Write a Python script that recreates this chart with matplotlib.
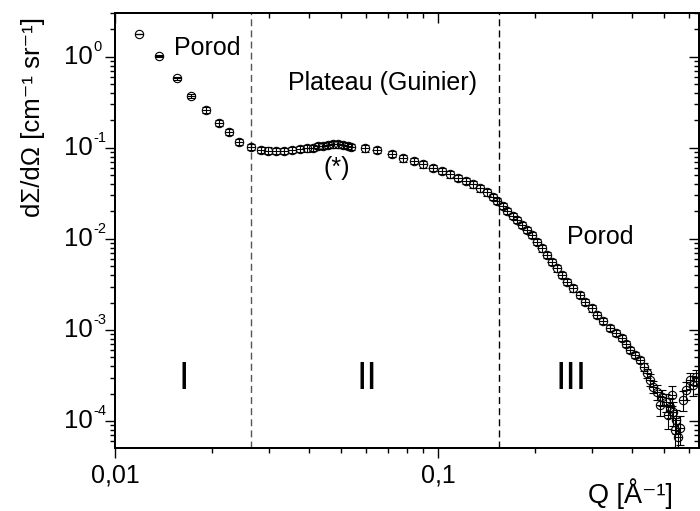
import numpy as np
import matplotlib
matplotlib.use("Agg")
import matplotlib.pyplot as plt
import matplotlib.transforms as mtransforms
from matplotlib.ticker import FixedLocator, LogLocator, NullFormatter, FuncFormatter

plt.rcParams['font.family'] = ['Liberation Sans', 'DejaVu Sans']

# ---- data (Q in 1/A, intensity in 1/cm/sr) ----
q_low = [0.01187, 0.01368, 0.01556, 0.01719, 0.01913, 0.02099, 0.02254, 0.02421, 0.02636, 0.02831]
i_low = [1.775, 1.018, 0.583, 0.370, 0.260, 0.187, 0.149, 0.116, 0.102, 0.0946]
rel_low = [0.01, 0.02, 0.04, 0.06, 0.08, 0.08, 0.08, 0.08, 0.08, 0.08]

q_plateau = [0.02983, 0.03150, 0.03336, 0.03540, 0.03739, 0.03922, 0.04094, 0.04261, 0.04415,
             0.04575, 0.04742, 0.04913, 0.05091, 0.05275, 0.05377]
i_plateau = [0.0934, 0.0932, 0.0932, 0.0946, 0.0970, 0.0988, 0.1003, 0.1047, 0.1055,
             0.1074, 0.1092, 0.1092, 0.1074, 0.1055, 0.1028]

q_guinier = [0.05943, 0.06459, 0.07190, 0.07808, 0.08426, 0.09005, 0.09630, 0.1027, 0.1089, 0.1156,
             0.1221, 0.1286, 0.1349, 0.1415, 0.1477, 0.1526, 0.1586, 0.1639, 0.1703, 0.1752]
i_guinier = [0.0988, 0.0946, 0.0855, 0.0767, 0.0716, 0.0659, 0.0605, 0.0556, 0.0512, 0.0470,
             0.0432, 0.0398, 0.0359, 0.0325, 0.0291, 0.0261, 0.0231, 0.0202, 0.0180, 0.0161]

q_porod = [0.1816, 0.1882, 0.1950, 0.2021, 0.2094, 0.2170, 0.2249, 0.2330, 0.2415, 0.2503, 0.2624,
           0.2752, 0.2852, 0.2991, 0.3099, 0.3242, 0.3408, 0.3557, 0.3713, 0.3820, 0.3931, 0.4074, 0.4221]
i_porod = [0.0142, 0.01253, 0.01104, 0.00932, 0.00788, 0.00666, 0.00562, 0.00475, 0.00402, 0.00339,
           0.00287, 0.00242, 0.00205, 0.00173, 0.00146, 0.00126, 0.00105, 0.000927, 0.000817,
           0.000702, 0.000603, 0.000532, 0.000469]
rel_mid = 0.08

q_high = [0.4343, 0.4437, 0.4533, 0.4630, 0.4764, 0.4868, 0.4938, 0.5081, 0.5154, 0.5228, 0.5303,
          0.5341, 0.5418, 0.5457, 0.5534, 0.5614, 0.5735, 0.5859, 0.6028, 0.6158, 0.6292]
i_high = [0.000393, 0.000337, 0.000283, 0.000237, 0.000209, 0.000150, 0.000184, 0.000162, 0.000117,
          0.000143, 0.000194, 0.000126, 0.0000798, 0.000103, 0.000067, 0.0000841, 0.000171,
          0.000219, 0.000283, 0.000249, 0.000305]
rel_high = [0.10, 0.12, 0.15, 0.15, 0.18, 0.25, 0.20, 0.22, 0.30, 0.25, 0.25,
            0.30, 0.35, 0.30, 0.40, 0.35, 0.25, 0.22, 0.20, 0.25, 0.20]

q_res = 0.03  # relative Q resolution

region_bounds = [0.0263, 0.155]
region_labels = ["I", "II", "III"]

x_ticks = [0.01, 0.1]
x_ticklabels = ["0,01", "0,1"]
y_ticks = [1e0, 1e-1, 1e-2, 1e-3, 1e-4]
y_exponents = ["0", "-1", "-2", "-3", "-4"]

# ---- assemble ----
Q = np.array(q_low + q_plateau + q_guinier + q_porod + q_high)
I = np.array(i_low + i_plateau + i_guinier + i_porod + i_high)
rel = np.array(rel_low + [rel_mid] * (len(q_plateau) + len(q_guinier) + len(q_porod)) + rel_high)
yerr = rel * I
xerr = q_res * Q

fig = plt.figure(figsize=(7.0, 5.11), dpi=100)
ax = fig.add_axes([0.1643, 0.1233, 0.8343, 0.8513])
ax.set_xscale('log')
ax.set_yscale('log')
ax.set_xlim(0.01, 0.643)
ax.set_ylim(5.07e-5, 3.02)

ax.errorbar(Q, I, xerr=xerr, fmt='none', ecolor='black', elinewidth=0.8, capsize=0, zorder=3)
ax.errorbar(Q, I, yerr=yerr, fmt='none', ecolor='black', elinewidth=0.8, capsize=3, capthick=0.8, zorder=3)
ax.plot(Q, I, 'o', ms=6.0, mfc='none', mec='black', mew=0.8, zorder=4)

ax.axvline(region_bounds[0], color='#555555', lw=1.0, ls=(0, (5, 3)), zorder=1)
ax.axvline(region_bounds[1], color='black', lw=1.0, ls=(0, (5, 3)), zorder=1)

# annotations
ax.text(0.0193, 1.26, "Porod", fontsize=18, ha='center', va='center')
ax.text(0.0671, 0.518, "Plateau (Guinier)", fontsize=18, ha='center', va='center')
ax.text(0.0487, 0.0604, "(*)", fontsize=18, ha='center', va='center')
ax.text(0.318, 0.0105, "Porod", fontsize=18, ha='center', va='center')
for xq, lab in zip([0.0163, 0.0603, 0.2583], region_labels):
    ax.text(xq, 2.9e-4, lab, fontsize=27, ha='center', va='center')

# ticks
ax.xaxis.set_major_locator(FixedLocator(x_ticks))
ax.xaxis.set_major_formatter(FuncFormatter(lambda v, p: x_ticklabels[x_ticks.index(v)] if v in x_ticks else ""))
ax.xaxis.set_minor_locator(LogLocator(base=10, subs=np.arange(2, 10)))
ax.xaxis.set_minor_formatter(NullFormatter())
ax.yaxis.set_major_locator(FixedLocator(y_ticks))
ax.yaxis.set_major_formatter(NullFormatter())
ax.yaxis.set_minor_locator(LogLocator(base=10, subs=np.arange(2, 10)))
ax.yaxis.set_minor_formatter(NullFormatter())
ax.tick_params(which='major', direction='out', length=7, width=1.0, labelsize=18, top=False, right=False, pad=4)
ax.tick_params(which='minor', direction='out', length=3.5, width=1.0, top=False, right=False)
for s in ax.spines.values():
    s.set_linewidth(1.3)

# y tick labels: "10" with a small superscript exponent
ytrans = ax.get_yaxis_transform()
sup_trans = mtransforms.offset_copy(ytrans, fig=fig, x=0.5, y=7.0, units='points')
for v, e in zip(y_ticks, y_exponents):
    ax.text(-0.0385, v, "10", transform=ytrans, ha='right', va='center', fontsize=18.5, clip_on=False)
    ax.text(-0.0385, v, e, transform=sup_trans, ha='left', va='center', fontsize=10.5, clip_on=False)

# mirrored inward ticks on top and right
axt = ax.twiny()
axt.set_xscale('log')
axt.set_xlim(ax.get_xlim())
axt.xaxis.set_major_locator(FixedLocator(x_ticks))
axt.xaxis.set_minor_locator(LogLocator(base=10, subs=np.arange(2, 10)))
axt.xaxis.set_major_formatter(NullFormatter())
axt.xaxis.set_minor_formatter(NullFormatter())
axt.tick_params(which='major', direction='in', length=7, width=1.0)
axt.tick_params(which='minor', direction='in', length=3.5, width=1.0)
axr = ax.twinx()
axr.set_yscale('log')
axr.set_ylim(ax.get_ylim())
axr.yaxis.set_major_locator(FixedLocator(y_ticks))
axr.yaxis.set_minor_locator(LogLocator(base=10, subs=np.arange(2, 10)))
axr.yaxis.set_major_formatter(NullFormatter())
axr.yaxis.set_minor_formatter(NullFormatter())
axr.tick_params(which='major', direction='in', length=7, width=1.0)
axr.tick_params(which='minor', direction='in', length=3.5, width=1.0)
for a in (axt, axr):
    for s in a.spines.values():
        s.set_linewidth(1.3)

fig.text(33 / 700, 1 - 117 / 511, "dΣ/dΩ [cm\u207b\u00b9 sr\u207b\u00b9]", fontsize=18.5,
         rotation=90, ha='center', va='center')
fig.text(630 / 700, 1 - 494 / 511, "Q [Å\u207b\u00b9]", fontsize=19.5, ha='center', va='center')

fig.savefig("out.png", dpi=100)
